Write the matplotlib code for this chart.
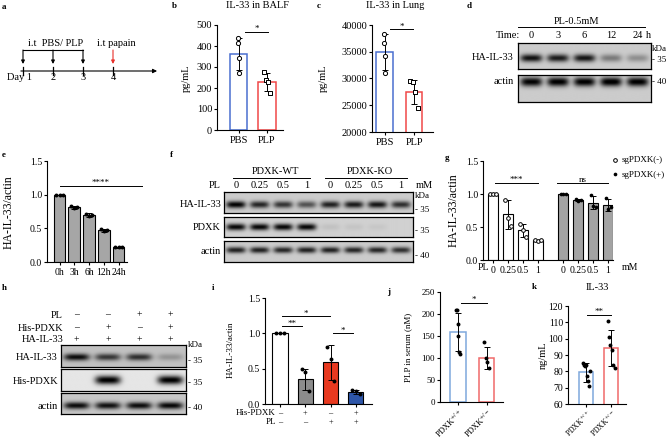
import numpy as np
import matplotlib.pyplot as plt

W, H = 672, 440
plt.rcParams['font.family'] = ['Liberation Serif', 'DejaVu Serif']
plt.rcParams['mathtext.fontset'] = 'stix'
plt.rcParams['font.size'] = 7
plt.rcParams['axes.linewidth'] = 0.8
plt.rcParams['xtick.major.width'] = 0.8
plt.rcParams['ytick.major.width'] = 0.8
plt.rcParams['xtick.major.size'] = 2.5
plt.rcParams['ytick.major.size'] = 2.5
plt.rcParams['xtick.major.pad'] = 1.5
plt.rcParams['ytick.major.pad'] = 1
plt.rcParams['xtick.labelsize'] = 7
plt.rcParams['ytick.labelsize'] = 7

# ---------------- data ----------------
# a: schedule
days = [1, 2, 3, 4]
day_labels = ['Day 1', '2', '3', '4']
treat_days = [1, 2, 3]
papain_day = 4

# b: IL-33 in BALF
b_groups = ['PBS', 'PLP']
b_mean = [362, 229]
b_sd = [75, 42]
b_pts = [[438, 414, 343, 271], [276, 238, 229, 176]]

# c: IL-33 in lung
c_groups = ['PBS', 'PLP']
c_mean = [34950, 27480]
c_sd = [3300, 2300]
c_pts = [[38300, 36700, 34200, 31100], [29600, 29400, 27400, 24500]]

# d: blot, PL 0.5 mM time course
d_times = ['0', '3', '6', '12', '24']
d_il33 = [0.74, 0.70, 0.72, 0.32, 0.24]
d_actin = [0.80, 0.82, 0.82, 0.84, 0.82]

# e: quantification of d
e_groups = ['0h', '3h', '6h', '12h', '24h']
e_mean = [1.0, 0.81, 0.70, 0.47, 0.22]
e_sd = [0.0, 0.02, 0.03, 0.02, 0.01]
e_pts = [[1.0, 1.0, 1.0], [0.83, 0.80, 0.81], [0.72, 0.68, 0.70],
         [0.49, 0.46, 0.48], [0.22, 0.22, 0.22]]

# f: blot, PDXK WT / KO with PL doses
f_doses = ['0', '0.25', '0.5', '1', '0', '0.25', '0.5', '1']
f_il33 = [0.80, 0.66, 0.60, 0.48, 0.68, 0.70, 0.72, 0.62]
f_pdxk = [0.80, 0.80, 0.80, 0.80, 0.06, 0.05, 0.04, 0.0]
f_actin = [0.68, 0.68, 0.66, 0.68, 0.68, 0.66, 0.66, 0.62]

# g: quantification of f
g_doses = ['0', '0.25', '0.5', '1']
g_neg_mean = [1.0, 0.69, 0.45, 0.30]
g_neg_sd = [0.0, 0.22, 0.10, 0.01]
g_neg_pts = [[1.0, 1.0, 1.0], [0.91, 0.63, 0.52], [0.55, 0.45, 0.35], [0.31, 0.29, 0.30]]
g_pos_mean = [1.0, 0.91, 0.87, 0.84]
g_pos_sd = [0.0, 0.01, 0.10, 0.09]
g_pos_pts = [[1.0, 1.0, 1.0], [0.92, 0.90, 0.91], [0.98, 0.82, 0.80], [0.94, 0.78, 0.80]]

# h: blot, His-PDXK overexpression
h_pl = ['–', '–', '+', '+']
h_pdxk = ['–', '+', '–', '+']
h_ha = ['+', '+', '+', '+']
h_il33 = [0.72, 0.55, 0.58, 0.18]
h_his = [0.0, 0.92, 0.0, 0.92]
h_actin = [0.74, 0.72, 0.74, 0.76]

# i: quantification of h
i_mean = [1.0, 0.35, 0.59, 0.17]
i_sd = [0.0, 0.15, 0.25, 0.035]
i_pts = [[1.0, 1.0, 1.0], [0.49, 0.45, 0.19], [0.81, 0.64, 0.33], [0.20, 0.19, 0.14]]

# j: PLP in serum
j_mean = [159, 100]
j_sd = [44, 26]
j_pts = [[209, 209, 177, 150, 114, 110], [136, 100, 90, 77]]

# k: IL-33 in serum
k_mean = [79.5, 94.5]
k_sd = [5.8, 11.0]
k_pts = [[85, 84, 83, 84, 77, 74, 71, 80], [111, 101, 96, 93, 84, 82]]

geno = ['PDXK$^{+/+}$', 'PDXK$^{+/-}$']

fig = plt.figure(figsize=(W / 100, H / 100), dpi=100)


def rect(x0, y0, x1, y1):
    return [x0 / W, 1 - y1 / H, (x1 - x0) / W, (y1 - y0) / H]


def txt(x, y, s, **kw):
    kw.setdefault('va', 'center')
    fig.text(x / W, 1 - y / H, s, **kw)


def bar_axes(x0, y0, x1, y1, c0, sp):
    ax = fig.add_axes(rect(x0, y0, x1, y1))
    ax.set_xlim(-(c0 - x0) / sp, (x1 - c0) / sp)
    ax.spines[['top', 'right']].set_visible(False)
    ax.tick_params(direction='out')
    return ax


def ylab(ax, s, x, y, box, size=7.5):
    x0, y0, x1, y1 = box
    ax.set_ylabel(s, fontsize=size)
    ax.yaxis.set_label_coords((x - x0) / (x1 - x0), (y1 - y) / (y1 - y0))


def sig(ax, xa, xb, y, s, size=6.5):
    ax.plot([xa, xb], [y, y], color='k', lw=0.7, clip_on=False)
    ax.annotate(s, ((xa + xb) / 2, y), xytext=(0, -1), textcoords='offset points',
                ha='center', va='bottom', fontsize=size)


def points(ax, x, vals, spread, **kw):
    n = len(vals)
    off = np.linspace(-spread, spread, n) if n > 1 else [0]
    return ax.scatter(x + np.array(off), vals, zorder=4, clip_on=False, **kw)


def blot(x0, y0, x1, y1, levels, yc, h, bg=0.80):
    ax = fig.add_axes(rect(x0, y0, x1, y1))
    n = len(levels)
    X, Y = np.meshgrid(np.linspace(0, n, 400), np.linspace(0, 1, 80))
    img = np.full(X.shape, bg)
    for i, v in enumerate(levels):
        d = np.abs((X - i - 0.5) / 0.41) ** 4 + ((Y - yc) / h) ** 2
        img = img - v * np.exp(-d)
    ax.imshow(np.clip(img, 0, 1), cmap='gray', vmin=0, vmax=1, extent=[0, n, 0, 1],
              origin='lower', aspect='auto', interpolation='bilinear')
    ax.set_xticks([])
    ax.set_yticks([])
    for s in ax.spines.values():
        s.set_linewidth(0.9)
    return ax


def lane_x(x0, x1, n):
    return [x0 + (i + 0.5) * (x1 - x0) / n for i in range(n)]


# panel letters
for lab, x, y in [('a', 2, 7), ('b', 172, 6), ('c', 317, 6), ('d', 467, 6),
                  ('e', 2, 155), ('f', 170, 155), ('g', 445, 158), ('h', 2, 288),
                  ('i', 212, 288), ('j', 387, 292), ('k', 532, 287)]:
    txt(x, y, lab, fontsize=6.5, fontweight='bold')

# ---------------- a ----------------
axa = fig.add_axes(rect(0, 30, 170, 90))
axa.set_xlim(1 - 23 / 30, 1 + 147 / 30)
axa.set_ylim(90, 30)
axa.axis('off')
axa.annotate('', xy=(5.47, 71), xytext=(0.93, 71),
             arrowprops=dict(arrowstyle='-|>', lw=0.8, color='k', mutation_scale=6, shrinkA=0, shrinkB=0))
for dd, lab in zip(days, day_labels):
    axa.plot([dd, dd], [67, 75], color='k', lw=0.9)
    if lab.startswith('Day'):
        axa.text(dd + 0.3, 78, lab, ha='right', va='center', fontsize=7.5)
    else:
        axa.text(dd, 78, lab, ha='center', va='center', fontsize=7.5)
axa.plot([treat_days[0], treat_days[-1]], [50, 50], color='k', lw=0.8)
for dd in treat_days:
    axa.annotate('', xy=(dd, 64), xytext=(dd, 50),
                 arrowprops=dict(arrowstyle='-|>', lw=0.8, color='k', mutation_scale=5, shrinkA=0, shrinkB=0))
axa.annotate('', xy=(papain_day, 64), xytext=(papain_day, 50),
             arrowprops=dict(arrowstyle='-|>', lw=0.8, color='#E8302A', mutation_scale=5, shrinkA=0, shrinkB=0))
axa.text(2.07, 43, 'i.t  PBS/ PLP', ha='center', va='center', fontsize=7.5)
axa.text(4.1, 43, 'i.t papain', ha='center', va='center', fontsize=7.5)

# ---------------- b ----------------
box = (217, 25, 283, 130)
ax = bar_axes(*box, 238.5, 28.5)
ax.bar([0, 1], b_mean, width=0.6, color='white', edgecolor=['#4A6FD0', '#F04848'], lw=1.1, zorder=2)
ax.errorbar([0, 1], b_mean, yerr=b_sd, fmt='none', ecolor='k', elinewidth=0.7, capsize=2, capthick=0.7, zorder=3)
points(ax, 0, b_pts[0], 0.03, s=9, marker='o', facecolor='white', edgecolor='k', lw=0.7)
points(ax, 1, b_pts[1], 0.1, s=9, marker='s', facecolor='white', edgecolor='k', lw=0.7)
ax.set_ylim(0, 500)
ax.set_yticks(range(0, 501, 100))
ax.set_xticks([0, 1], b_groups)
ax.tick_params(labelsize=7.5)
sig(ax, 0.23, 1.03, 467, '*')
ylab(ax, 'pg/mL', 191, 78, box)
txt(257, 6, 'IL-33 in BALF', ha='center', fontsize=7.5)

# ---------------- c ----------------
box = (372, 25, 433, 132)
ax = bar_axes(*box, 384.5, 29.5)
ax.bar([0, 1], c_mean, width=0.55, color='white', edgecolor=['#4A6FD0', '#F04848'], lw=1.1, zorder=2)
ax.errorbar([0, 1], c_mean, yerr=c_sd, fmt='none', ecolor='k', elinewidth=0.7, capsize=2, capthick=0.7, zorder=3)
points(ax, 0, c_pts[0], 0.03, s=9, marker='o', facecolor='white', edgecolor='k', lw=0.7)
points(ax, 1, c_pts[1], 0.12, s=9, marker='s', facecolor='white', edgecolor='k', lw=0.7)
ax.set_ylim(20000, 40000)
ax.set_yticks(range(20000, 40001, 5000))
ax.set_xticks([0, 1], c_groups)
ax.tick_params(labelsize=7.5)
sig(ax, 0.19, 0.97, 39250, '*')
ylab(ax, 'pg/mL', 328, 78, box)
txt(395, 6, 'IL-33 in Lung', ha='center', fontsize=7.5)

# ---------------- d ----------------
blot(518, 43, 651, 69, d_il33, 0.42, 0.15, bg=0.80)
blot(518, 75, 651, 102, d_actin, 0.75, 0.17, bg=0.80)
txt(577, 22, 'PL-0.5mM', ha='center', fontsize=7.5)
fig.add_artist(plt.Line2D([518 / W, 645 / W], [1 - 27 / H, 1 - 27 / H], color='k', lw=0.7))
txt(520, 36, 'Time:', ha='right', fontsize=7.5)
for x, t in zip(lane_x(518, 651, len(d_times)), d_times):
    txt(x, 36, t, ha='center', fontsize=7.5)
txt(646, 36, 'h', ha='left', fontsize=7.5)
txt(514, 58, 'HA-IL-33', ha='right', fontsize=7.5)
txt(514, 82, 'actin', ha='right', fontsize=7.5)
txt(652, 49, 'kDa', ha='left', fontsize=6.5)
txt(652, 60, '- 35', ha='left', fontsize=6.5)
txt(652, 82, '- 40', ha='left', fontsize=6.5)

# ---------------- e ----------------
box = (47, 161, 127, 262)
ax = bar_axes(*box, 59.5, 14.75)
xe = np.arange(len(e_groups))
ax.bar(xe, e_mean, width=0.8, color='#A6A6A6', edgecolor='k', lw=0.8, zorder=2)
ax.errorbar(xe, e_mean, yerr=e_sd, fmt='none', ecolor='k', elinewidth=0.7, capsize=2, capthick=0.7, zorder=3)
for x, p in zip(xe, e_pts):
    points(ax, x, p, 0.22, s=8, color='k', lw=0)
ax.set_ylim(0, 1.5)
ax.set_yticks([0, 0.5, 1.0, 1.5], ['0.0', '0.5', '1.0', '1.5'])
ax.set_xticks(xe, e_groups)
sig(ax, 0.03, 5.6, 1.13, '****')
ylab(ax, 'HA-IL-33/actin', 15, 212, box, size=8.5)

# ---------------- f ----------------
blot(224, 192, 413, 213, f_il33, 0.38, 0.16, bg=0.80)
blot(224, 217, 413, 237, f_pdxk, 0.50, 0.17, bg=0.82)
blot(224, 241, 413, 262, f_actin, 0.57, 0.15, bg=0.80)
txt(275, 172, 'PDXK-WT', ha='center', fontsize=7.5)
txt(370, 172, 'PDXK-KO', ha='center', fontsize=7.5)
fig.add_artist(plt.Line2D([233 / W, 310 / W], [1 - 178 / H] * 2, color='k', lw=0.7))
fig.add_artist(plt.Line2D([325 / W, 407 / W], [1 - 178 / H] * 2, color='k', lw=0.7))
txt(221, 185, 'PL', ha='right', fontsize=7.5)
for x, t in zip(lane_x(224, 413, len(f_doses)), f_doses):
    txt(x, 185, t, ha='center', fontsize=7.5)
txt(416, 185, 'mM', ha='left', fontsize=7.5)
txt(221, 204, 'HA-IL-33', ha='right', fontsize=7.5)
txt(221, 227, 'PDXK', ha='right', fontsize=7.5)
txt(221, 251, 'actin', ha='right', fontsize=7.5)
txt(415, 196, 'kDa', ha='left', fontsize=6.5)
txt(415, 210, '- 35', ha='left', fontsize=6.5)
txt(415, 231, '- 35', ha='left', fontsize=6.5)
txt(415, 256, '- 40', ha='left', fontsize=6.5)

# ---------------- g ----------------
box = (483, 161, 613, 260)
ax = bar_axes(*box, 493, 15)
xg1 = np.arange(4)
xg2 = xg1 + 4.67
ax.bar(xg1, g_neg_mean, width=0.67, color='white', edgecolor='k', lw=0.8, zorder=2)
ax.bar(xg2, g_pos_mean, width=0.67, color='#A3A3A3', edgecolor='k', lw=0.8, zorder=2)
ax.errorbar(xg1, g_neg_mean, yerr=g_neg_sd, fmt='none', ecolor='k', elinewidth=0.7, capsize=2, capthick=0.7, zorder=3)
ax.errorbar(xg2, g_pos_mean, yerr=g_pos_sd, fmt='none', ecolor='k', elinewidth=0.7, capsize=2, capthick=0.7, zorder=3)
for i in range(4):
    h1 = points(ax, xg1[i], g_neg_pts[i], 0.17, s=7, marker='o', facecolor='white', edgecolor='k', lw=0.7)
    h2 = points(ax, xg2[i], g_pos_pts[i], 0.17, s=7, color='k', lw=0)
h1.set_label('sgPDXK(-)')
h2.set_label('sgPDXK(+)')
ax.set_ylim(0, 1.5)
ax.set_yticks([0, 0.5, 1.0, 1.5], ['0.0', '0.5', '1.0', '1.5'])
ax.set_xticks(np.concatenate([xg1, xg2]), g_doses + g_doses)
sig(ax, 0.13, 3.0, 1.17, '***')
sig(ax, 4.27, 7.67, 1.17, 'ns')
ylab(ax, 'HA-IL-33/actin', 460, 210, box, size=8.5)
txt(483, 267, 'PL', ha='center', fontsize=7)
txt(622, 267, 'mM', ha='left', fontsize=7)
fig.legend(handles=[h1, h2], loc='upper left', bbox_to_anchor=(606 / W, 1 - 152 / H), frameon=False,
           fontsize=6.5, handletextpad=0.1, handlelength=1.2, labelspacing=0.7, scatterpoints=1,
           borderaxespad=0)

# ---------------- h ----------------
blot(61, 345, 186, 367, h_il33, 0.45, 0.16, bg=0.76)
blot(61, 369, 186, 391, h_his, 0.50, 0.20, bg=0.90)
blot(61, 393, 186, 414, h_actin, 0.40, 0.17, bg=0.78)
for row, y, name in [(h_pl, 315, 'PL'), (h_pdxk, 328, 'His-PDXK'), (h_ha, 340, 'HA-IL-33')]:
    txt(63, y, name, ha='right', fontsize=7.5)
    for x, s in zip(lane_x(61, 186, 4), row):
        txt(x, y, s, ha='center', fontsize=7)
txt(58, 357, 'HA-IL-33', ha='right', fontsize=7.5)
txt(58, 381, 'His-PDXK', ha='right', fontsize=7.5)
txt(58, 406, 'actin', ha='right', fontsize=7.5)
txt(188, 345, 'kDa', ha='left', fontsize=6.5)
txt(188, 361, '- 35', ha='left', fontsize=6.5)
txt(188, 383, '- 35', ha='left', fontsize=6.5)
txt(188, 408, '- 40', ha='left', fontsize=6.5)

# ---------------- i ----------------
box = (265, 298, 372, 404)
ax = bar_axes(*box, 280, 25.3)
xi = np.arange(4)
ax.bar(xi, i_mean, width=0.6, color=['white', '#8C8C8C', '#E8391F', '#2E56A8'], edgecolor='k', lw=0.8, zorder=2)
ax.errorbar(xi, i_mean, yerr=i_sd, fmt='none', ecolor='k', elinewidth=0.7, capsize=2, capthick=0.7, zorder=3)
for x, p in zip(xi, i_pts):
    points(ax, x, p, 0.15, s=8, color='k', lw=0)
ax.set_ylim(0, 1.5)
ax.set_yticks([0, 0.5, 1.0, 1.5], ['0.0', '0.5', '1.0', '1.5'])
ax.set_xticks(xi, [''] * 4)
sig(ax, 0.08, 0.87, 1.10, '**')
sig(ax, 0.08, 1.98, 1.24, '*')
sig(ax, 2.09, 2.89, 1.0, '*')
ylab(ax, 'HA-IL-33/actin', 235, 350, box, size=6.5)
for row, y, name in [(h_pdxk, 413, 'His-PDXK'), (h_pl, 422, 'PL')]:
    txt(276, y, name, ha='right', fontsize=6.5)
    for x, s in zip(xi, row):
        ax.text(x, 1 - (y - 298) / 106, s, transform=ax.get_xaxis_transform(), ha='center', va='center', fontsize=6)

# ---------------- j ----------------
box = (440, 292, 503, 402)
ax = bar_axes(*box, 458, 28.5)
ax.bar([0, 1], j_mean, width=0.56, color='white', edgecolor=['#7FA8DC', '#F06A6A'], lw=1.1, zorder=2)
ax.errorbar([0, 1], j_mean, yerr=j_sd, fmt='none', ecolor='k', elinewidth=0.7, capsize=2, capthick=0.7, zorder=3)
for x, p in zip([0, 1], j_pts):
    points(ax, x, p, 0.08, s=8, color='k', lw=0)
ax.set_ylim(0, 250)
ax.set_yticks(range(0, 251, 50))
ax.set_xticks([0, 1], geno, rotation=45, ha='right', rotation_mode='anchor')
ax.tick_params(axis='y', labelsize=6.5)
ax.tick_params(axis='x', labelsize=6, pad=1)
sig(ax, 0.1, 1.02, 225, '*')
ylab(ax, 'PLP in serum (nM)', 412, 347, box, size=6.5)

# ---------------- k ----------------
box = (568, 306, 626, 404)
ax = bar_axes(*box, 586, 25)
ax.bar([0, 1], k_mean, width=0.56, color='white', edgecolor=['#7FA8DC', '#F06A6A'], lw=1.1, zorder=2)
ax.errorbar([0, 1], k_mean, yerr=k_sd, fmt='none', ecolor='k', elinewidth=0.7, capsize=2, capthick=0.7, zorder=3)
for x, p in zip([0, 1], k_pts):
    points(ax, x, p, 0.14, s=8, color='k', lw=0)
ax.set_ylim(60, 120)
ax.set_yticks(range(60, 121, 10))
ax.set_xticks([0, 1], geno, rotation=45, ha='right', rotation_mode='anchor')
ax.tick_params(axis='x', labelsize=5.6, pad=0.5, length=2)
sig(ax, 0.04, 1.0, 114.5, '**')
ylab(ax, 'ng/mL', 548, 355, box, size=7.5)
txt(597, 288, 'IL-33', ha='center', fontsize=7.5)

fig.savefig('out.png', dpi=100)
